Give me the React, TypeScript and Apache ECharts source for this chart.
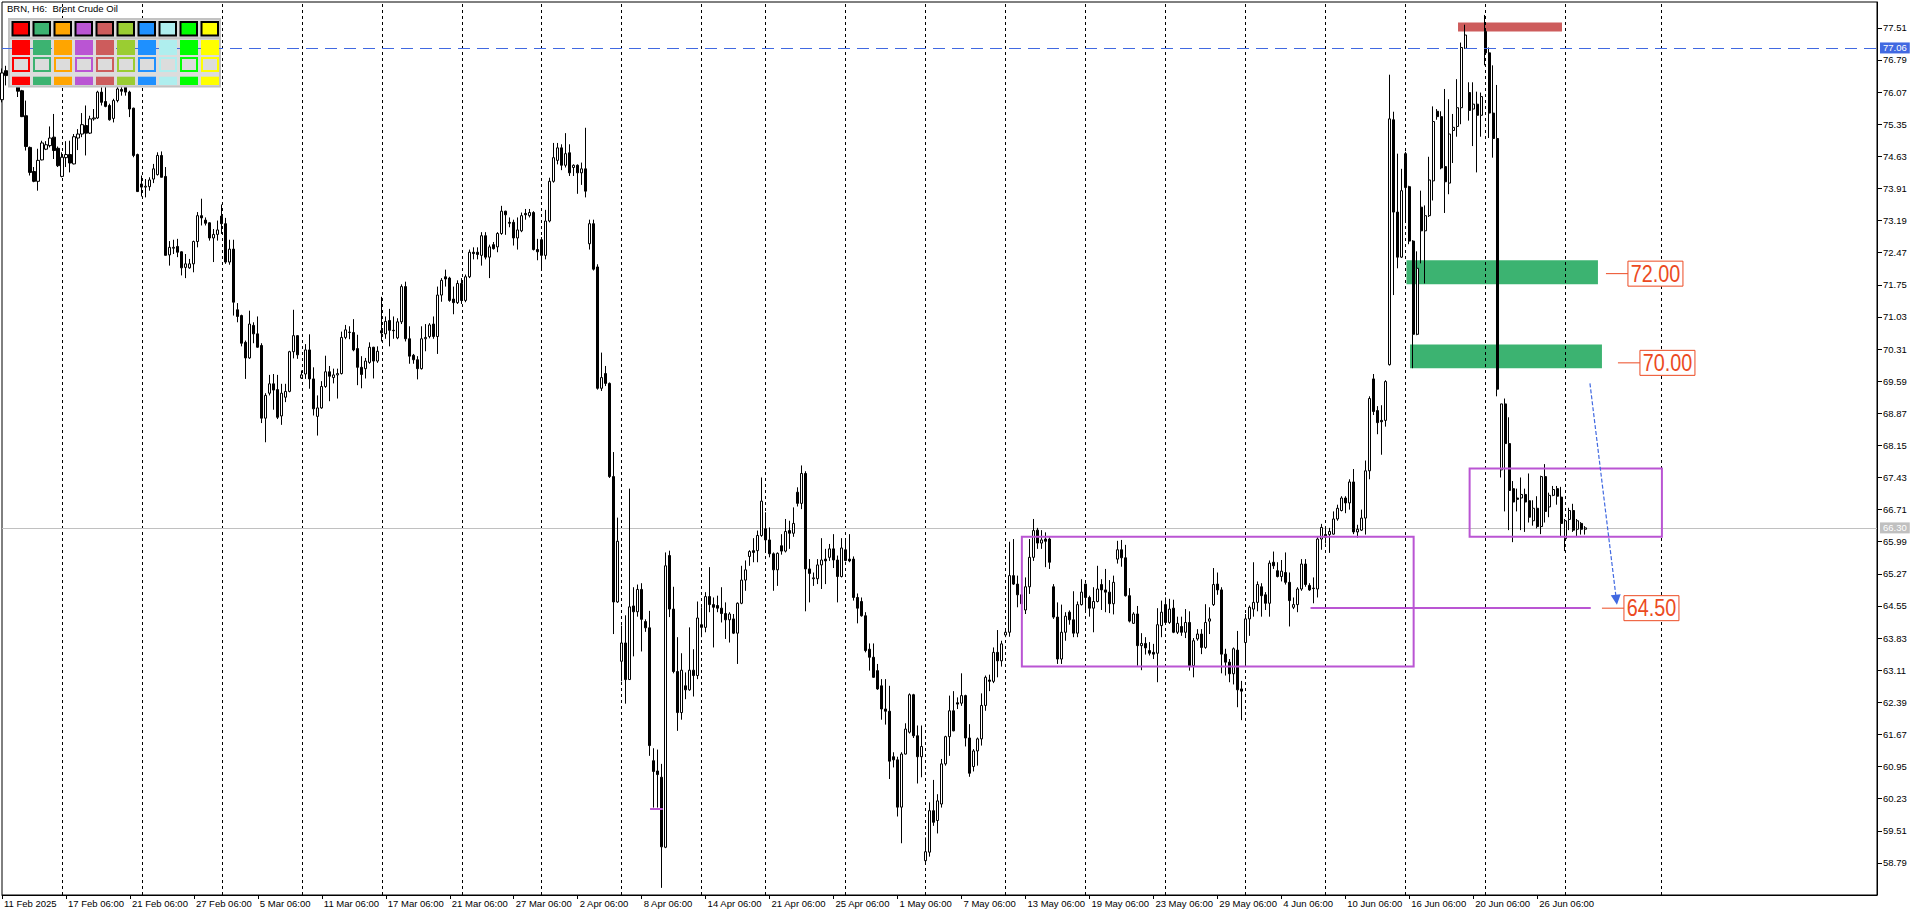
import React, { useEffect, useRef } from "react";
import * as echarts from "echarts";

// ---- H6 candles, one array per trading week: [open, close, low, high] ----
const wk0211 = [
  [75.9, 76.5, 75.84, 76.6], [76.55, 76.44, 76.22, 76.66], [76.44, 76.66, 76.37, 76.78], [76.66, 76.8, 76.5, 77.0],
  [76.7, 76.09, 75.96, 76.85], [76.1, 75.52, 75.51, 76.12], [75.54, 74.85, 74.76, 75.88], [74.83, 74.27, 74.2, 74.85],
  [74.29, 74.07, 74.05, 74.39], [74.07, 74.54, 73.86, 74.8], [74.55, 74.93, 74.54, 74.98], [74.79, 74.89, 74.77, 74.97],
  [74.87, 75.04, 74.83, 75.3], [75.06, 74.76, 74.57, 75.58], [74.81, 74.42, 74.39, 74.85],
];
const wk0217 = [
  [74.18, 74.61, 74.16, 74.72], [74.6, 74.67, 74.39, 74.97], [74.67, 74.48, 74.27, 74.98], [74.46, 75.07, 74.45, 75.13],
  [75.04, 75.13, 74.77, 75.24], [75.13, 75.34, 75.06, 75.6], [75.32, 75.15, 74.65, 75.77], [75.15, 75.47, 75.13, 75.54],
  [75.47, 75.49, 75.43, 75.69], [75.49, 76.07, 75.47, 76.1], [76.07, 75.84, 75.77, 76.18], [75.86, 75.75, 75.73, 76.33],
  [75.77, 75.45, 75.43, 75.81], [75.48, 75.88, 75.39, 75.92], [75.88, 76.14, 75.84, 76.22], [76.13, 76.09, 75.99, 76.52],
  [76.22, 76.07, 75.99, 76.55], [76.07, 75.69, 75.51, 76.1], [75.71, 74.65, 74.61, 75.72], [74.67, 73.84, 73.83, 74.69],
];
const wk0224 = [
  [74.01, 73.94, 73.73, 74.2], [73.94, 73.96, 73.71, 74.12], [73.95, 74.1, 73.86, 74.16], [74.12, 74.35, 74.03, 74.46],
  [74.22, 74.65, 74.2, 74.72], [74.65, 74.16, 74.16, 74.74], [74.18, 72.41, 72.41, 74.39], [72.42, 72.59, 72.18, 72.73],
  [72.57, 72.59, 72.44, 72.76], [72.61, 72.48, 72.37, 72.78], [72.49, 72.13, 71.96, 72.5], [72.14, 72.22, 71.9, 72.44],
  [72.13, 72.22, 72.11, 72.33], [72.22, 72.72, 72.03, 72.74], [72.72, 73.3, 72.59, 73.38], [73.3, 73.25, 73.08, 73.68],
  [73.2, 73.13, 73.08, 73.26], [73.14, 72.8, 72.74, 73.15], [72.8, 72.88, 72.26, 73.0], [72.88, 72.98, 72.74, 73.19],
];
const wk0303 = [
  [73.29, 73.12, 72.89, 73.55], [73.12, 72.26, 72.22, 73.25], [72.26, 72.55, 72.2, 72.76], [72.55, 71.36, 71.06, 72.76],
  [71.19, 71.04, 70.91, 71.34], [71.06, 70.44, 70.37, 71.08], [70.46, 70.11, 69.64, 70.5], [70.11, 70.87, 70.09, 71.17],
  [70.84, 70.65, 70.44, 70.91], [70.65, 70.35, 70.34, 71.04], [70.39, 68.76, 68.65, 70.44], [68.76, 69.27, 68.22, 69.32],
  [69.32, 69.53, 69.27, 69.73], [69.53, 69.39, 68.95, 69.75], [69.4, 68.78, 68.74, 69.73], [68.81, 69.32, 68.61, 69.53],
  [69.23, 69.36, 69.12, 69.53], [69.36, 70.25, 69.34, 70.27], [70.25, 70.61, 70.1, 71.19], [70.61, 70.18, 70.09, 70.62],
];
const wk0310 = [
  [69.66, 69.73, 69.64, 69.83], [69.75, 70.29, 69.64, 70.42], [70.29, 69.64, 69.42, 70.64], [69.64, 68.97, 68.82, 69.9],
  [68.8, 68.99, 68.37, 69.27], [68.99, 69.47, 68.97, 69.59], [69.47, 69.8, 69.44, 70.16], [69.8, 69.7, 69.14, 69.93],
  [69.67, 69.73, 69.54, 69.87], [69.73, 69.76, 69.2, 69.87], [69.76, 70.57, 69.74, 70.7], [70.57, 70.74, 70.53, 70.85],
  [70.68, 70.69, 70.53, 70.82], [70.68, 70.29, 70.26, 70.98], [70.32, 69.9, 69.5, 70.63], [69.9, 69.74, 69.43, 70.15],
  [69.87, 70.04, 69.65, 70.11], [70.01, 70.35, 69.98, 70.46], [70.35, 70.04, 69.65, 70.36], [70.04, 70.26, 70.0, 70.37],
];
const wk0317 = [
  [70.72, 70.67, 70.48, 71.48], [70.65, 70.93, 70.54, 71.04], [70.95, 70.73, 70.37, 71.21], [70.73, 70.72, 70.54, 71.04],
  [70.56, 70.92, 70.53, 71.0], [70.92, 71.71, 70.87, 71.76], [71.71, 70.54, 70.48, 71.82], [70.54, 70.15, 69.98, 70.82],
  [70.17, 70.07, 69.98, 70.2], [70.07, 69.87, 69.63, 70.15], [69.87, 70.54, 69.85, 70.82], [70.54, 70.57, 70.26, 70.87],
  [70.59, 70.85, 70.55, 70.89], [70.87, 70.59, 70.54, 71.04], [70.59, 71.52, 70.2, 71.71], [71.52, 71.85, 71.37, 71.9],
  [71.93, 71.88, 71.71, 72.09], [71.9, 71.4, 71.37, 71.93], [71.43, 71.35, 71.09, 71.71], [71.35, 71.78, 71.32, 71.85],
];
const wk0324 = [
  [71.78, 71.4, 71.32, 71.9], [71.4, 71.93, 71.36, 71.98], [71.93, 72.48, 71.9, 72.54], [72.48, 72.45, 72.32, 72.59],
  [72.48, 72.43, 72.32, 72.59], [72.41, 72.85, 72.18, 72.93], [72.85, 72.37, 72.32, 72.93], [72.37, 72.6, 71.9, 72.65],
  [72.65, 72.56, 72.54, 72.71], [72.6, 72.9, 72.48, 72.93], [72.9, 73.4, 72.87, 73.52], [73.4, 73.32, 72.87, 73.41],
  [73.15, 73.13, 73.04, 73.26], [73.15, 72.8, 72.63, 73.21], [72.8, 72.98, 72.54, 73.26], [72.96, 73.3, 72.93, 73.37],
  [73.35, 73.32, 73.21, 73.45], [73.3, 73.37, 73.26, 73.45], [73.37, 72.54, 72.52, 73.4], [72.54, 72.49, 72.3, 72.78],
];
const wk0331 = [
  [72.76, 72.41, 72.12, 72.82], [72.41, 73.18, 72.32, 73.43], [73.18, 74.07, 73.15, 74.15], [74.07, 74.6, 74.04, 74.93],
  [74.54, 74.82, 74.45, 74.93], [74.82, 74.43, 74.32, 74.9], [74.43, 74.69, 74.38, 75.15], [74.71, 74.26, 74.19, 74.9],
  [74.38, 74.43, 74.19, 74.45], [74.43, 74.26, 73.79, 74.45], [74.26, 74.35, 73.99, 74.49], [74.35, 73.85, 73.71, 75.27],
  [72.67, 73.12, 72.54, 73.21], [73.12, 72.1, 72.07, 73.21], [72.15, 69.43, 69.4, 72.21], [69.43, 69.67, 69.37, 70.23],
  [69.76, 69.54, 69.48, 69.93], [69.54, 67.45, 67.42, 69.56], [67.45, 64.64, 63.92, 68.0], [64.64, 66.0, 64.62, 66.53],
];
const wk0407 = [
  [63.31, 63.72, 62.86, 64.11], [63.72, 62.9, 62.36, 64.34], [62.9, 64.53, 62.89, 67.18], [64.55, 64.42, 63.42, 64.97],
  [64.42, 64.92, 64.31, 65.03], [64.92, 64.25, 63.53, 65.06], [64.2, 64.06, 63.97, 64.25], [64.06, 61.42, 61.19, 64.44],
  [61.08, 60.84, 60.03, 61.36], [60.85, 60.77, 60.03, 61.33], [60.71, 59.15, 58.23, 61.01], [59.14, 65.45, 59.12, 65.75],
  [65.68, 64.48, 64.3, 65.79], [64.48, 63.08, 63.04, 64.98], [63.08, 62.16, 61.75, 63.85], [62.16, 63.11, 62.0, 63.49],
  [62.76, 62.67, 62.46, 63.06], [62.67, 63.11, 62.65, 64.07], [63.11, 62.99, 62.52, 63.58], [62.99, 64.28, 62.91, 64.65],
];
const wk0414 = [
  [64.13, 64.07, 63.85, 64.52], [64.07, 64.76, 63.96, 64.86], [64.76, 64.58, 64.41, 65.42], [64.58, 64.52, 63.62, 64.74],
  [64.56, 64.5, 64.41, 64.78], [64.5, 64.38, 64.18, 64.97], [64.38, 64.24, 63.81, 64.63], [64.24, 64.37, 63.73, 64.41],
  [64.26, 63.94, 63.92, 64.37], [63.94, 64.61, 63.25, 64.63], [64.61, 65.13, 64.59, 65.45], [65.13, 65.36, 64.89, 65.57],
  [65.66, 65.77, 65.45, 65.8], [65.79, 65.75, 65.53, 66.07], [65.79, 66.13, 65.53, 66.24], [66.13, 66.9, 66.1, 67.43],
];
const wk0421 = [
  [66.28, 66.03, 65.78, 66.65], [66.03, 65.72, 65.64, 66.31], [65.72, 65.36, 64.89, 65.75], [65.36, 65.73, 65.0, 65.75],
  [65.9, 65.78, 65.7, 66.16], [65.78, 66.22, 65.75, 66.5], [66.24, 66.18, 65.83, 66.46], [66.18, 66.4, 66.1, 66.76],
  [67.1, 66.85, 66.78, 67.21], [66.85, 67.52, 66.72, 67.7], [67.52, 65.38, 64.43, 67.57], [65.38, 65.28, 64.63, 65.6],
  [65.16, 65.18, 65.0, 65.3], [65.16, 65.47, 65.04, 65.6], [65.47, 65.58, 64.93, 66.07], [65.6, 65.56, 65.04, 65.83],
  [65.64, 65.83, 65.56, 65.94], [65.83, 65.58, 65.4, 66.16], [65.58, 65.21, 64.63, 65.68], [65.21, 65.85, 65.19, 66.07],
];
const wk0428 = [
  [65.81, 65.57, 65.55, 66.01], [65.6, 65.56, 65.53, 66.16], [65.6, 64.74, 64.67, 65.66], [64.74, 64.5, 64.16, 64.83],
  [64.65, 64.33, 64.31, 64.74], [64.33, 63.55, 63.51, 64.41], [63.58, 63.4, 63.1, 63.71], [63.4, 62.95, 62.94, 63.71],
  [63.1, 62.69, 62.67, 63.25], [62.76, 62.24, 62.0, 62.91], [62.24, 62.19, 61.89, 62.91], [62.19, 61.07, 60.67, 62.76],
  [61.17, 61.1, 60.93, 61.27], [61.1, 60.04, 59.83, 61.17], [60.04, 61.23, 59.23, 61.27], [61.23, 61.79, 61.22, 61.92],
  [61.72, 62.56, 61.69, 62.59], [62.56, 61.64, 61.59, 62.58], [61.64, 61.17, 60.57, 61.87], [61.17, 61.4, 60.71, 61.87],
];
const wk0505 = [
  [58.84, 59.04, 58.77, 59.36], [59.03, 59.96, 58.93, 60.15], [59.96, 59.7, 59.62, 60.65], [59.74, 60.18, 59.45, 60.33],
  [60.11, 61.01, 60.03, 61.12], [61.01, 61.62, 60.97, 61.64], [61.62, 62.2, 61.19, 62.54], [62.2, 61.75, 61.74, 62.64],
  [62.38, 62.35, 62.24, 62.5], [62.37, 62.54, 62.31, 63.04], [62.54, 61.59, 61.4, 62.56], [61.59, 60.8, 60.72, 61.9],
  [60.95, 61.3, 60.84, 61.34], [61.3, 61.57, 60.97, 61.6], [61.57, 62.32, 61.42, 62.59], [62.32, 62.95, 62.2, 62.99],
  [62.89, 62.86, 62.64, 63.01], [62.86, 63.51, 62.82, 63.62], [63.51, 63.32, 62.95, 64.01], [63.32, 63.7, 63.19, 63.77],
];
const wk0512 = [
  [63.9, 63.96, 63.85, 64.02], [63.96, 65.23, 63.86, 65.99], [65.23, 65.04, 65.02, 66.05], [65.04, 64.8, 64.52, 65.23],
  [64.8, 64.6, 64.45, 64.85], [64.46, 64.98, 64.37, 65.19], [64.98, 65.64, 64.82, 66.05], [65.64, 66.24, 65.56, 66.5],
  [66.25, 65.96, 65.83, 66.3], [65.96, 66.03, 65.83, 66.25], [66.05, 66.0, 65.42, 66.2], [66.05, 65.53, 65.38, 66.09],
  [64.98, 64.3, 64.26, 65.04], [64.3, 63.36, 63.25, 64.63], [63.36, 63.96, 63.25, 64.58], [63.96, 64.32, 63.77, 64.41],
  [64.41, 64.24, 64.13, 64.45], [64.24, 63.94, 63.85, 64.88], [63.94, 64.58, 63.85, 64.65], [64.58, 64.86, 64.56, 65.15],
];
const wk0519 = [
  [65.04, 64.74, 64.45, 65.05], [64.74, 64.5, 64.31, 64.78], [64.5, 64.65, 63.96, 64.97], [64.65, 64.93, 64.63, 65.45],
  [65.03, 64.91, 64.46, 65.15], [64.91, 64.86, 64.41, 65.38], [64.86, 64.6, 64.39, 65.13], [64.6, 65.08, 64.36, 65.23],
  [65.6, 65.81, 65.5, 66.01], [65.81, 65.63, 65.43, 66.03], [65.63, 64.78, 64.76, 65.92], [64.78, 64.21, 64.18, 64.95],
  [64.16, 64.37, 64.15, 64.41], [64.37, 63.66, 63.21, 64.55], [63.66, 63.71, 63.11, 63.94], [63.71, 63.61, 63.46, 63.85],
  [63.55, 63.49, 63.44, 63.74], [63.51, 63.47, 63.36, 63.7], [63.49, 64.13, 62.84, 64.5], [64.11, 64.41, 63.85, 64.67],
];
const wk0526 = [
  [64.58, 64.18, 64.15, 64.74], [64.18, 64.48, 64.15, 64.71], [64.5, 63.96, 63.94, 64.69], [63.96, 64.16, 63.92, 64.31],
  [64.09, 63.96, 63.88, 64.31], [63.96, 64.18, 63.83, 64.48], [64.18, 63.21, 63.1, 64.43], [63.21, 63.77, 62.95, 63.83],
  [63.81, 63.92, 63.77, 64.03], [63.92, 63.62, 63.47, 64.03], [63.62, 64.18, 63.59, 64.59], [64.21, 64.26, 63.92, 64.52],
  [64.58, 65.03, 64.55, 65.4], [65.04, 64.91, 64.8, 65.3], [64.91, 63.47, 63.04, 64.97], [63.47, 63.29, 62.99, 63.59],
  [63.29, 63.03, 62.84, 63.36], [63.03, 63.59, 62.79, 63.62], [63.56, 62.67, 62.28, 63.99], [62.69, 62.64, 61.99, 62.87],
];
const wk0602 = [
  [63.73, 64.26, 63.25, 64.37], [64.26, 64.52, 63.88, 64.56], [64.48, 64.63, 64.31, 65.53], [64.63, 65.03, 64.43, 65.1],
  [64.98, 64.78, 64.31, 65.06], [64.8, 64.61, 64.46, 64.86], [64.61, 65.51, 64.31, 65.57], [65.53, 65.45, 65.38, 65.77],
  [65.34, 65.21, 65.19, 65.53], [65.21, 65.33, 65.1, 65.58], [65.3, 65.08, 65.03, 65.75], [65.08, 64.67, 64.09, 65.3],
  [64.52, 64.58, 64.48, 64.74], [64.58, 64.93, 64.41, 64.97], [64.93, 65.49, 64.89, 65.6], [65.49, 65.03, 64.98, 65.6],
  [65.01, 64.91, 64.89, 65.06], [64.95, 64.94, 64.61, 65.19], [64.93, 66.05, 64.74, 66.1], [66.05, 66.31, 65.81, 66.39],
];
const wk0609 = [
  [66.15, 66.09, 65.95, 66.3], [66.15, 66.22, 65.74, 66.3], [66.16, 66.5, 66.15, 66.67], [66.5, 66.74, 66.46, 66.82],
  [66.69, 66.97, 66.67, 67.01], [66.97, 66.86, 66.63, 67.01], [66.86, 67.33, 66.71, 67.39], [67.33, 66.21, 66.16, 67.62],
  [66.21, 66.27, 66.08, 66.37], [66.25, 66.52, 66.23, 66.71], [66.52, 67.58, 66.15, 67.81], [67.58, 69.2, 67.39, 69.25],
  [69.64, 68.91, 68.83, 69.75], [68.93, 68.66, 68.4, 69.03], [68.71, 68.68, 67.94, 69.05], [68.71, 69.58, 68.57, 69.61],
  [69.96, 75.47, 69.94, 76.46], [75.45, 73.38, 71.52, 75.63], [73.38, 72.37, 72.12, 74.69], [72.37, 73.86, 72.35, 74.35],
];
const wk0616 = [
  [74.69, 73.93, 73.17, 74.73], [73.95, 72.73, 72.66, 73.97], [72.73, 70.64, 69.88, 72.75], [70.64, 72.12, 70.62, 72.5],
  [73.49, 72.96, 72.23, 73.86], [72.96, 73.3, 71.78, 73.53], [73.3, 74.1, 73.27, 74.62], [74.08, 75.41, 73.64, 75.75],
  [75.64, 75.52, 75.45, 75.69], [75.52, 74.37, 74.34, 75.64], [74.4, 74.06, 73.36, 76.14], [74.03, 75.13, 73.78, 75.91],
  [75.21, 75.28, 74.48, 75.58], [75.3, 75.72, 75.07, 76.36], [75.72, 77.07, 75.35, 77.18], [77.05, 77.35, 77.04, 77.58],
  [76.06, 75.66, 75.43, 76.29], [75.69, 75.8, 74.86, 76.29], [75.8, 75.55, 74.27, 76.08], [75.55, 75.97, 75.07, 76.06],
];
const wk0623 = [
  [77.43, 76.95, 76.67, 77.8], [76.95, 75.6, 75.04, 77.07], [75.6, 75.03, 74.6, 76.67], [75.03, 69.41, 69.25, 76.23],
  [67.6, 69.08, 67.43, 69.08], [69.08, 68.19, 66.67, 69.2], [68.19, 67.14, 66.25, 68.78], [67.18, 66.88, 65.98, 67.35],
  [66.97, 66.94, 66.67, 67.18], [66.97, 67.05, 66.25, 67.43], [67.05, 66.88, 66.21, 67.18], [66.91, 66.54, 66.42, 67.52],
  [66.46, 66.74, 66.35, 66.92], [66.74, 66.33, 66.29, 67.01], [66.33, 67.45, 66.16, 67.47], [67.45, 66.67, 66.42, 67.73],
  [66.77, 67.03, 66.54, 67.09], [67.03, 67.16, 67.01, 67.24], [67.18, 67.01, 66.82, 67.24], [66.99, 66.4, 66.12, 67.22],
];
const wk0630 = [
  [66.06, 66.46, 65.78, 66.5], [66.49, 66.69, 66.25, 66.75], [66.69, 66.25, 66.21, 66.84], [66.27, 66.46, 66.12, 66.5],
  [66.4, 66.27, 66.15, 66.43], [66.27, 66.3, 66.15, 66.34],
];

const candles = [
  ...wk0211, ...wk0217, ...wk0224, ...wk0303, ...wk0310, ...wk0317, ...wk0324, ...wk0331, ...wk0407, ...wk0414,
  ...wk0421, ...wk0428, ...wk0505, ...wk0512, ...wk0519, ...wk0526, ...wk0602, ...wk0609, ...wk0616, ...wk0623, ...wk0630,
];

// ---- time axis ----
const xLabels = [
  "11 Feb 2025", "17 Feb 06:00", "21 Feb 06:00", "27 Feb 06:00", "5 Mar 06:00", "11 Mar 06:00", "17 Mar 06:00",
  "21 Mar 06:00", "27 Mar 06:00", "2 Apr 06:00", "8 Apr 06:00", "14 Apr 06:00", "21 Apr 06:00", "25 Apr 06:00",
  "1 May 06:00", "7 May 06:00", "13 May 06:00", "19 May 06:00", "23 May 06:00", "29 May 06:00", "4 Jun 06:00",
  "10 Jun 06:00", "16 Jun 06:00", "20 Jun 06:00", "26 Jun 06:00",
];
const LABEL_STEP = 16; // bars between time labels
const TOTAL_SLOTS = 470; // bar slots across the chart window (incl. empty future)
const weekStarts = [15, 35, 55, 75, 95, 115, 135, 155, 175, 191, 211, 231, 251, 271, 291, 311, 331, 351, 371, 391, 415];

// ---- price axis ----
const yTickLabels = [
  "58.79", "59.51", "60.23", "60.95", "61.67", "62.39", "63.11", "63.83", "64.55", "65.27", "65.99", "66.71", "67.43",
  "68.15", "68.87", "69.59", "70.31", "71.03", "71.75", "72.47", "73.19", "73.91", "74.63", "75.35", "76.07", "76.79", "77.51",
];
const Y_MIN = 58.07;
const Y_MAX = 78.09;
const Y_STEP = 0.72;

// ---- annotations (x in bar units, y in price) ----
const bidPrice = 66.3;
const hLinePrice = 77.06;
const zoneBounds = [
  [364.2, 390.2, 77.43, 77.63],
  [351.3, 399.2, 71.76, 72.3],
  [352.2, 400.2, 69.88, 70.41],
];
const boxBounds = [
  [255.1, 353.1, 63.19, 66.1],
  [367.1, 415.2, 66.1, 67.63],
];
const segments = [
  [327.3, 397.4, 64.51],
  [162.1, 165.3, 60.0],
];
const arrowFrom = [397.2, 69.54];
const arrowTo = [403.8, 64.69];
const levelPrices = [72.0, 70.0, 64.5];
const levelStarts = [401.2, 404.2, 400.2];

const paletteColors = ["#FF0000", "#3CB371", "#FFA500", "#BA55D3", "#CD5C5C", "#9ACD32", "#1E90FF", "#AFEEEE", "#00FF00", "#FFFF00"];
const zoneColors = ["#CD5C5C", "#3CB371", "#3CB371"];

const FONT = "Liberation Sans, Arial, sans-serif";
const MAGENTA = "#BA55D3";
const BLUE = "#4169E1";
const LEVEL_RED = "#EC4A22";

function buildOption(): any {
  const categories = Array.from({ length: TOTAL_SLOTS }, (_, i) => String(i));
  const showLabel = (i: number) => i % LABEL_STEP === 0 && i / LABEL_STEP < xLabels.length;
  return {
    animation: false,
    backgroundColor: "#ffffff",
    grid: { left: 2, top: 2, right: 43, bottom: 20, show: true, borderColor: "#000", borderWidth: 1, backgroundColor: "transparent" },
    xAxis: [
      {
        type: "category",
        data: categories,
        boundaryGap: false,
        axisLine: { show: true, onZero: false, lineStyle: { color: "#000", width: 1 } },
        axisTick: { show: true, alignWithLabel: true, interval: (i: number) => showLabel(i), length: 4, lineStyle: { color: "#000" } },
        axisLabel: {
          interval: (i: number) => showLabel(i),
          showMinLabel: true,
          formatter: (_v: string, i: number) => (showLabel(i) ? xLabels[i / LABEL_STEP] : ""),
          align: "left",
          margin: 3,
          padding: [0, 0, 0, 2],
          color: "#000",
          fontSize: 9.5,
          fontFamily: FONT,
        },
        splitLine: { show: false },
      },
      { type: "value", min: 0, max: TOTAL_SLOTS - 1, show: false, splitLine: { show: false } },
    ],
    yAxis: {
      type: "value",
      position: "right",
      min: Y_MIN,
      max: Y_MAX,
      interval: Y_STEP,
      axisLine: { show: true, onZero: false, lineStyle: { color: "#000", width: 1 } },
      axisTick: { show: true, length: 5, lineStyle: { color: "#000" } },
      axisLabel: {
        formatter: (v: number) => {
          const s = v.toFixed(2);
          return yTickLabels.includes(s) ? s : "";
        },
        margin: 6,
        color: "#000",
        fontSize: 9.5,
        fontFamily: FONT,
        showMaxLabel: false,
        showMinLabel: false,
      },
      splitLine: { show: false },
    },
    series: [
      {
        name: "zones",
        type: "line",
        xAxisIndex: 1,
        data: [],
        z: 1,
        markArea: {
          silent: true,
          z: 1,
          data: zoneBounds.map((b, k) => [
            { coord: [b[0], b[3]], itemStyle: { color: zoneColors[k], opacity: 1, borderWidth: 0 } },
            { coord: [b[1], b[2]] },
          ]),
        },
      },
      {
        name: "separators",
        type: "line",
        xAxisIndex: 1,
        data: [],
        z: 2,
        markLine: {
          silent: true,
          z: 2,
          symbol: "none",
          label: { show: false },
          lineStyle: { color: "#000", width: 1, type: [3, 3], opacity: 1 },
          emphasis: { disabled: true },
          data: weekStarts.map((w) => ({ xAxis: w })),
        },
      },
      {
        name: "bid",
        type: "line",
        xAxisIndex: 1,
        data: [],
        z: 2,
        markLine: {
          silent: true,
          z: 2,
          symbol: "none",
          lineStyle: { color: "#C0C0C0", width: 1, type: "solid", opacity: 1 },
          label: {
            show: true,
            position: "end",
            distance: 3,
            formatter: () => bidPrice.toFixed(2),
            color: "#ffffff",
            backgroundColor: "#C0C0C0",
            padding: [1, 3, 0, 3],
            fontSize: 9.5,
            fontFamily: FONT,
          },
          data: [{ yAxis: bidPrice }],
        },
      },
      {
        name: "BRN",
        type: "candlestick",
        data: candles,
        barWidth: 2.6,
        z: 3,
        itemStyle: { color: "#ffffff", color0: "#000000", borderColor: "#000000", borderColor0: "#000000", borderWidth: 1 },
      },
      {
        name: "boxes",
        type: "line",
        xAxisIndex: 1,
        data: [],
        z: 4,
        markArea: {
          silent: true,
          z: 4,
          data: boxBounds.map((b) => [
            { coord: [b[0], b[3]], itemStyle: { color: "rgba(0,0,0,0)", borderColor: MAGENTA, borderWidth: 2 } },
            { coord: [b[1], b[2]] },
          ]),
        },
        markLine: {
          silent: true,
          z: 4,
          symbol: "none",
          label: { show: false },
          lineStyle: { color: MAGENTA, width: 2, type: "solid", opacity: 1 },
          data: segments.map((s) => [{ coord: [s[0], s[2]] }, { coord: [s[1], s[2]] }]),
        },
      },
      {
        name: "arrow",
        type: "line",
        xAxisIndex: 1,
        data: [],
        z: 4,
        markLine: {
          silent: true,
          z: 4,
          symbol: ["none", "triangle"],
          symbolSize: 10,
          label: { show: false },
          lineStyle: { color: BLUE, width: 1.2, type: [4, 2], opacity: 1 },
          itemStyle: { color: BLUE },
          data: [[{ coord: arrowFrom }, { coord: arrowTo }]],
        },
      },
      {
        name: "hline",
        type: "line",
        xAxisIndex: 1,
        data: [],
        z: 5,
        markLine: {
          silent: true,
          z: 5,
          symbol: "none",
          lineStyle: { color: BLUE, width: 1, type: [12, 7], opacity: 1 },
          label: {
            show: true,
            position: "end",
            distance: 3,
            formatter: () => hLinePrice.toFixed(2),
            color: "#ffffff",
            backgroundColor: BLUE,
            padding: [1, 3, 0, 3],
            fontSize: 9.5,
            fontFamily: FONT,
          },
          data: [{ yAxis: hLinePrice }],
        },
      },
    ],
  };
}

function buildGraphic(toPx: (x: number, y: number) => number[]): any[] {
  const els: any[] = [];
  // palette panel (UI chrome)
  els.push({ type: "rect", z: 4, shape: { x: 9, y: 19, width: 211, height: 67.5 }, style: { fill: "#DCDCDC", stroke: "#C2C2C2", lineWidth: 2 } });
  els.push({ type: "line", z: 4, shape: { x1: 10, y1: 38.3, x2: 219, y2: 38.3 }, style: { stroke: "#C2C2C2", lineWidth: 2 } });
  paletteColors.forEach((c, k) => {
    const x = 12 + 21 * k;
    els.push({ type: "rect", z: 6, shape: { x: x + 0.5, y: 22, width: 16.5, height: 13.5 }, style: { fill: c, stroke: "#000", lineWidth: 2 } });
    els.push({ type: "rect", z: 6, shape: { x, y: 40, width: 18, height: 15 }, style: { fill: c } });
    els.push({ type: "rect", z: 6, shape: { x: x + 1, y: 58, width: 16, height: 13 }, style: { fill: "#DCDCDC", stroke: c, lineWidth: 2 } });
    els.push({ type: "rect", z: 6, shape: { x, y: 76.7, width: 18, height: 8.3 }, style: { fill: c } });
  });
  els.push({
    type: "text", z: 6, x: 7, y: 8,
    style: { text: "BRN, H6:  Brent Crude Oil", fill: "#000", fontSize: 9.5, fontFamily: FONT, align: "left", verticalAlign: "middle" },
  });
  // level labels
  levelPrices.forEach((p, k) => {
    const [x, y] = toPx(levelStarts[k], p);
    const bx = x + 22;
    els.push({ type: "line", z: 7, shape: { x1: x, y1: y, x2: bx, y2: y }, style: { stroke: LEVEL_RED, lineWidth: 1 } });
    els.push({ type: "rect", z: 7, shape: { x: bx, y: y - 12.5, width: 55, height: 25 }, style: { fill: "#ffffff", stroke: LEVEL_RED, lineWidth: 1 } });
    els.push({
      type: "text", z: 8, x: bx + 27.5, y: y + 0.5, scaleX: 0.86,
      style: { text: p.toFixed(2), fill: LEVEL_RED, fontSize: 23, fontFamily: FONT, align: "center", verticalAlign: "middle" },
    });
  });
  return els;
}

export default function App() {
  const ref = useRef<HTMLDivElement>(null);
  useEffect(() => {
    const el = ref.current!;
    const chart = echarts.init(el, null, { renderer: "svg" });
    chart.setOption(buildOption());
    const toPx = (x: number, y: number) => chart.convertToPixel({ xAxisIndex: 1, yAxisIndex: 0 } as any, [x, y]) as number[];
    chart.setOption({ graphic: buildGraphic(toPx) });
    return () => chart.dispose();
  }, []);
  return <div ref={ref} style={{ position: "fixed", left: 0, top: 0, width: 1920, height: 915, background: "#fff" }} />;
}
